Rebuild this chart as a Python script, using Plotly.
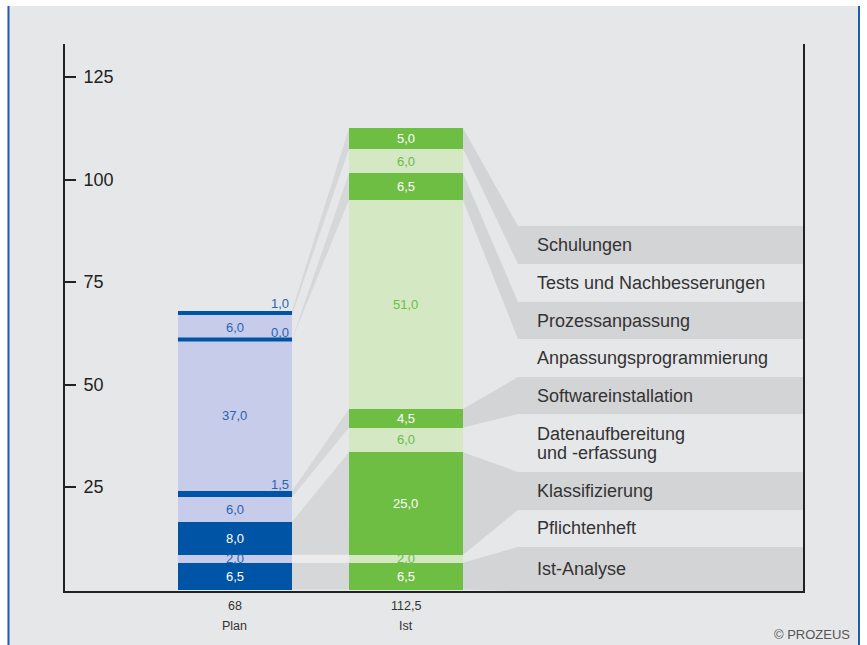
import plotly.graph_objects as go

# ---------------- data ----------------
columns = ["Plan", "Ist"]
categories = [
    "Ist-Analyse",
    "Pflichtenheft",
    "Klassifizierung",
    "Datenaufbereitung<br>und -erfassung",
    "Softwareinstallation",
    "Anpassungsprogrammierung",
    "Prozessanpassung",
    "Tests und Nachbesserungen",
    "Schulungen",
]
plan_values = [6.5, 2.0, 8.0, 6.0, 1.5, 37.0, 0.0, 6.0, 1.0]
ist_values = [6.5, 2.0, 25.0, 6.0, 4.5, 51.0, 6.5, 6.0, 5.0]
y_ticks = [25, 50, 75, 100, 125]

# ---------------- layout constants ----------------
W, H = 867, 645
ML, MR, MT, MB = 65, 64, 44, 54
PW, PH = W - ML - MR, H - MT - MB
X_RANGE = [-0.994, 3.3216]
Y_RANGE = [-0.366, 133.05]
BAR_W = 0.667
BAND_X = 1.655          # left edge of legend bands (data x)
LABEL_X = 1.754         # legend text x
LEGEND_EDGES = [-0.37, 10.37, 19.39, 28.66, 42.80, 51.83, 61.10, 70.12, 79.39, 88.66]
LINE_GAP = 19           # px between lines of two-line legend labels

FONT = "Liberation Sans, Arial, Helvetica, sans-serif"
BG = "#e6e7e9"
PLAN_DARK, PLAN_LIGHT, PLAN_TXT = "#0054a6", "#c6cce9", "#2a64b2"
IST_DARK, IST_LIGHT, IST_TXT = "#6fbe44", "#d3e8c3", "#6cbd45"
RIB_DARK = "#d3d4d6"
RIB_MID = "#d6d7d9"
RIB_LIGHT = "#ececed"


def fmt(v):
    return f"{v:.1f}".replace(".", ",")


def fmt_total(v):
    return str(int(v)) if float(v).is_integer() else fmt(v)


def px_x(px):
    return (px - ML) / PW


def px_y(py):
    return (H - MB - py) / PH


fig = go.Figure()

col_vals = [plan_values, ist_values]
col_cols = [(PLAN_DARK, PLAN_LIGHT, PLAN_TXT), (IST_DARK, IST_LIGHT, IST_TXT)]

for i, cat in enumerate(categories):
    dark = i % 2 == 0
    fig.add_trace(go.Bar(
        x=[0, 1], y=[plan_values[i], ist_values[i]], width=BAR_W,
        name=cat.replace("<br>", " "),
        marker=dict(color=[PLAN_DARK if dark else PLAN_LIGHT, IST_DARK if dark else IST_LIGHT],
                    line=dict(width=0)),
        hovertemplate="%{y}<extra>" + cat.replace("<br>", " ") + "</extra>",
        showlegend=False,
    ))

shapes = []
annotations = []

# cumulative bases
cums = []
for vals in col_vals:
    base, c = 0.0, []
    for v in vals:
        c.append((base, base + v))
        base += v
    cums.append(c)

# segment labels and zero markers
for ci, vals in enumerate(col_vals):
    dcol, lcol, tcol = col_cols[ci]
    for i, v in enumerate(vals):
        b0, b1 = cums[ci][i]
        dark = i % 2 == 0
        color = "white" if dark else tcol
        if v < 2:
            if dark:
                color = tcol
            annotations.append(dict(x=ci + BAR_W / 2, y=b1, xref="x", yref="y",
                                    text=fmt(v), showarrow=False, xanchor="right",
                                    yanchor="middle", yshift=7, xshift=-1,
                                    font=dict(family=FONT, size=13, color=color)))
        else:
            annotations.append(dict(x=ci, y=(b0 + b1) / 2, xref="x", yref="y",
                                    text=fmt(v), showarrow=False, xanchor="center",
                                    yanchor="middle",
                                    font=dict(family=FONT, size=13, color=color)))
        if v == 0:
            shapes.append(dict(type="line", xref="x", yref="y",
                               x0=ci - BAR_W / 2, x1=ci + BAR_W / 2, y0=b0, y1=b0,
                               line=dict(color=dcol, width=4), layer="above"))

# ribbons between bars
xa, xb = BAR_W / 2, 1 - BAR_W / 2
for i in range(len(categories)):
    if i % 2 == 0:
        color = RIB_MID
    elif i == 1:
        color = RIB_LIGHT
    else:
        continue
    p0, p1 = cums[0][i]
    q0, q1 = cums[1][i]
    shapes.append(dict(type="path", xref="x", yref="y", layer="below",
                       path=f"M{xa},{p0} L{xa},{p1} L{xb},{q1} L{xb},{q0} Z",
                       fillcolor=color, line=dict(width=0)))

# ribbons from Ist to legend bands + legend labels
xc = 1 + BAR_W / 2
for i in range(len(categories)):
    lo, hi = LEGEND_EDGES[i], (LEGEND_EDGES[i + 1] if i + 1 < len(LEGEND_EDGES) else 97.9)
    if i % 2 == 0:
        q0, q1 = cums[1][i]
        shapes.append(dict(type="path", xref="x", yref="y", layer="below",
                           path=(f"M{xc},{q0} L{xc},{q1} L{BAND_X},{hi} "
                                 f"L{X_RANGE[1]},{hi} L{X_RANGE[1]},{lo} L{BAND_X},{lo} Z"),
                           fillcolor=RIB_DARK, line=dict(width=0)))
    lines = categories[i].split("<br>")
    n = len(lines)
    for k, line in enumerate(lines):
        shift = ((n - 1) / 2 - k) * LINE_GAP
        annotations.append(dict(x=LABEL_X, y=(lo + hi) / 2, xref="x", yref="y",
                                text=line, showarrow=False, xanchor="left",
                                yanchor="middle", align="left", yshift=shift,
                                font=dict(family=FONT, size=18, color="#333333")))

# column labels with totals
for ci, name in enumerate(columns):
    total = sum(col_vals[ci])
    annotations.append(dict(x=ci, y=px_y(606), xref="x", yref="paper", text=fmt_total(total),
                            showarrow=False, xanchor="center", yanchor="middle",
                            font=dict(family=FONT, size=12.5, color="#333333")))
    annotations.append(dict(x=ci, y=px_y(626), xref="x", yref="paper", text=name,
                            showarrow=False, xanchor="center", yanchor="middle",
                            font=dict(family=FONT, size=12.5, color="#333333")))

annotations.append(dict(x=px_x(852), y=px_y(634), xref="paper", yref="paper",
                        text="© PROZEUS", showarrow=False, xanchor="right", yanchor="middle",
                        font=dict(family=FONT, size=13, color="#555555")))

# page frame
shapes += [
    dict(type="rect", xref="paper", yref="paper", x0=px_x(0), x1=px_x(7.5), y0=px_y(H), y1=px_y(0),
         fillcolor="white", line=dict(width=0), layer="below"),
    dict(type="rect", xref="paper", yref="paper", x0=px_x(0), x1=px_x(W), y0=px_y(6), y1=px_y(0),
         fillcolor="white", line=dict(width=0), layer="below"),
    dict(type="rect", xref="paper", yref="paper", x0=px_x(860), x1=px_x(W), y0=px_y(H), y1=px_y(0),
         fillcolor="white", line=dict(width=0), layer="below"),
    dict(type="line", xref="paper", yref="paper", x0=px_x(8.5), x1=px_x(8.5), y0=px_y(H), y1=px_y(6),
         line=dict(color="#1c5fb2", width=2), layer="above"),
    dict(type="line", xref="paper", yref="paper", x0=px_x(859), x1=px_x(859), y0=px_y(H), y1=px_y(6),
         line=dict(color="#1c5fb2", width=2), layer="above"),
]

fig.update_layout(
    width=W, height=H,
    margin=dict(l=ML, r=MR, t=MT, b=MB, pad=0),
    paper_bgcolor=BG, plot_bgcolor=BG,
    barmode="stack", bargap=0,
    showlegend=False,
    font=dict(family=FONT, color="#222222"),
    shapes=shapes, annotations=annotations,
    xaxis=dict(range=X_RANGE, showgrid=False, zeroline=False, showticklabels=False,
               showline=True, linecolor="#222222", linewidth=2, ticks="", fixedrange=True),
    yaxis=dict(range=Y_RANGE, showgrid=False, zeroline=False, tickvals=y_ticks,
               ticktext=[str(t) for t in y_ticks],
               ticks="inside", ticklen=11, tickwidth=2, tickcolor="#222222",
               ticklabelposition="inside", ticklabelstandoff=8,
               tickfont=dict(family=FONT, size=18, color="#222222"),
               showline=True, linecolor="#222222", linewidth=2, mirror=True, fixedrange=True),
)

fig.write_html("out.html", config={"displayModeBar": False})
